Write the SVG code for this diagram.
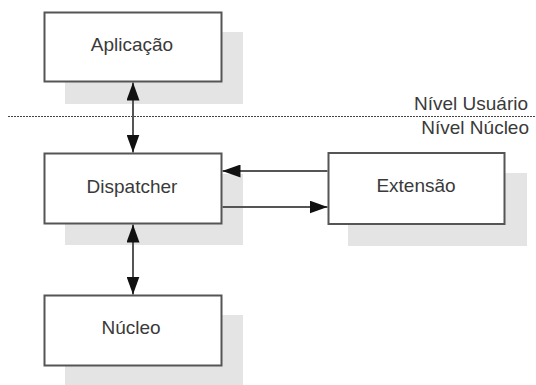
<svg xmlns="http://www.w3.org/2000/svg" width="536" height="385" viewBox="0 0 536 385">
<style>
.shadow{fill:#e4e4e4;stroke:none}
.box{fill:#fff;stroke:#555;stroke-width:2}
.lbl{font-family:"Liberation Sans",Arial,sans-serif;font-size:19px;fill:#3a3a3a;text-anchor:middle}
.lvl{font-family:"Liberation Sans",Arial,sans-serif;font-size:19px;fill:#3a3a3a;text-anchor:end}
.conn{stroke:#555;stroke-width:2;fill:none}
</style>
<defs>
<marker id="ah" viewBox="0 0 18 13" refX="18" refY="6.5" markerWidth="18" markerHeight="13" markerUnits="userSpaceOnUse" orient="auto-start-reverse">
<path d="M0,0 L18,6.5 L0,13 Z" fill="#111"/>
</marker>
</defs>
<rect width="536" height="385" fill="#fff"/>
<g id="aplicacao">
<rect class="shadow" x="65" y="32" width="178" height="72"/>
<rect class="box" x="44.5" y="12.5" width="177" height="69"/>
<text class="lbl" x="132" y="51">Aplicação</text>
</g>
<g id="dispatcher">
<rect class="shadow" x="65" y="174" width="178" height="71"/>
<rect class="box" x="44.5" y="153.5" width="177" height="70"/>
<text class="lbl" x="132" y="193">Dispatcher</text>
</g>
<g id="extensao">
<rect class="shadow" x="348" y="173" width="179" height="73"/>
<rect class="box" x="328.5" y="153" width="176" height="71"/>
<text class="lbl" x="416" y="192">Extensão</text>
</g>
<g id="nucleo">
<rect class="shadow" x="65" y="315" width="178" height="72"/>
<rect class="box" x="44.5" y="295.5" width="177" height="70"/>
<text class="lbl" x="131" y="334">Núcleo</text>
</g>
<g id="niveis">
<line x1="8" y1="116.5" x2="536" y2="116.5" stroke="#444" stroke-width="1" stroke-dasharray="2,1"/>
<text class="lvl" x="528" y="110">Nível Usuário</text>
<text class="lvl" x="529" y="134">Nível Núcleo</text>
</g>
<g id="connectors">
<line class="conn" x1="133" y1="82.5" x2="133" y2="152.5" marker-start="url(#ah)" marker-end="url(#ah)"/>
<line class="conn" x1="133" y1="224.5" x2="133" y2="294.5" marker-start="url(#ah)" marker-end="url(#ah)"/>
<line class="conn" x1="327.5" y1="171" x2="222.5" y2="171" marker-end="url(#ah)"/>
<line class="conn" x1="222.5" y1="207" x2="327.5" y2="207" marker-end="url(#ah)"/>
</g>
</svg>
